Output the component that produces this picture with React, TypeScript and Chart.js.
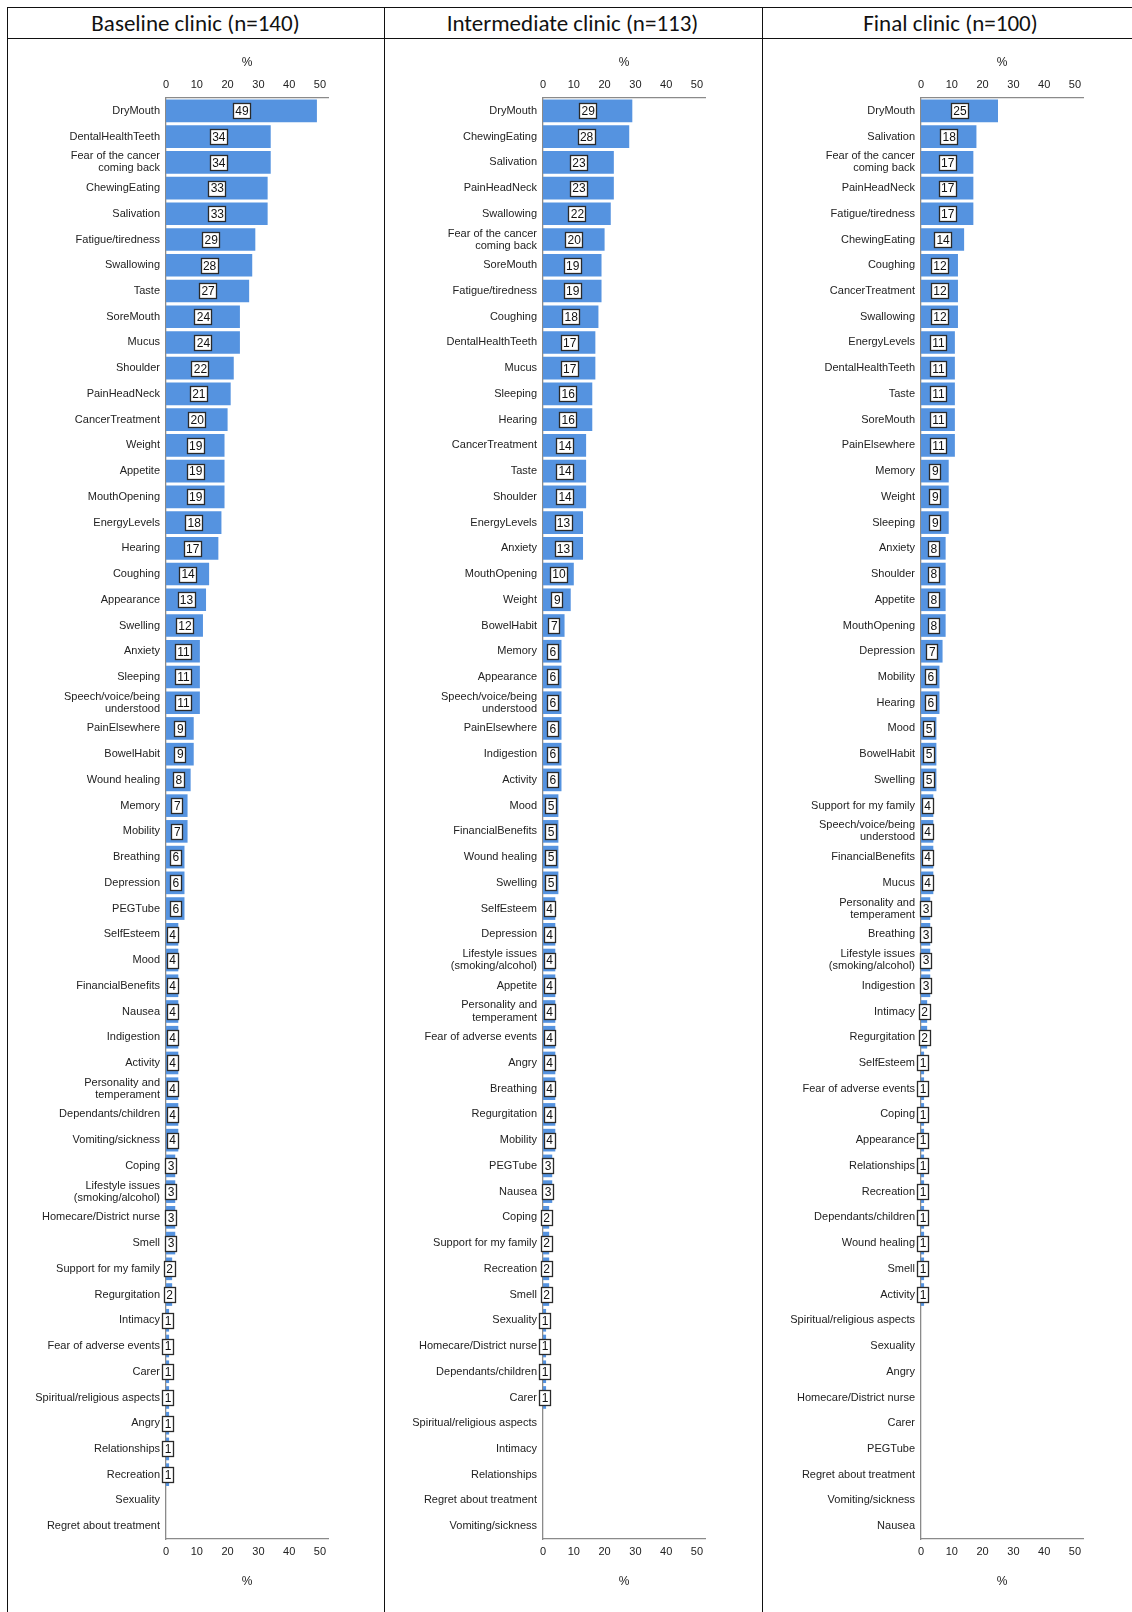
import React, { useEffect, useRef } from "react";
import { Chart, registerables } from "chart.js";

Chart.register(...registerables);

// ---------- DATA ----------
const baselineTitle = "Baseline clinic (n=140)";
const baselineLabels = [
  "DryMouth", "DentalHealthTeeth", "Fear of the cancer\ncoming back", "ChewingEating", "Salivation",
  "Fatigue/tiredness", "Swallowing", "Taste", "SoreMouth", "Mucus", "Shoulder", "PainHeadNeck",
  "CancerTreatment", "Weight", "Appetite", "MouthOpening", "EnergyLevels", "Hearing", "Coughing",
  "Appearance", "Swelling", "Anxiety", "Sleeping", "Speech/voice/being\nunderstood", "PainElsewhere",
  "BowelHabit", "Wound healing", "Memory", "Mobility", "Breathing", "Depression", "PEGTube",
  "SelfEsteem", "Mood", "FinancialBenefits", "Nausea", "Indigestion", "Activity",
  "Personality and\ntemperament", "Dependants/children", "Vomiting/sickness", "Coping",
  "Lifestyle issues\n(smoking/alcohol)", "Homecare/District nurse", "Smell", "Support for my family",
  "Regurgitation", "Intimacy", "Fear of adverse events", "Carer", "Spiritual/religious aspects",
  "Angry", "Relationships", "Recreation", "Sexuality", "Regret about treatment",
];
const baselineValues = [
  49, 34, 34, 33, 33, 29, 28, 27, 24, 24, 22, 21, 20, 19, 19, 19, 18, 17, 14, 13, 12, 11, 11, 11,
  9, 9, 8, 7, 7, 6, 6, 6, 4, 4, 4, 4, 4, 4, 4, 4, 4, 3, 3, 3, 3, 2, 2, 1, 1, 1, 1, 1, 1, 1, 0, 0,
];

const intermediateTitle = "Intermediate clinic (n=113)";
const intermediateLabels = [
  "DryMouth", "ChewingEating", "Salivation", "PainHeadNeck", "Swallowing",
  "Fear of the cancer\ncoming back", "SoreMouth", "Fatigue/tiredness", "Coughing", "DentalHealthTeeth",
  "Mucus", "Sleeping", "Hearing", "CancerTreatment", "Taste", "Shoulder", "EnergyLevels", "Anxiety",
  "MouthOpening", "Weight", "BowelHabit", "Memory", "Appearance", "Speech/voice/being\nunderstood",
  "PainElsewhere", "Indigestion", "Activity", "Mood", "FinancialBenefits", "Wound healing", "Swelling",
  "SelfEsteem", "Depression", "Lifestyle issues\n(smoking/alcohol)", "Appetite",
  "Personality and\ntemperament", "Fear of adverse events", "Angry", "Breathing", "Regurgitation",
  "Mobility", "PEGTube", "Nausea", "Coping", "Support for my family", "Recreation", "Smell",
  "Sexuality", "Homecare/District nurse", "Dependants/children", "Carer",
  "Spiritual/religious aspects", "Intimacy", "Relationships", "Regret about treatment",
  "Vomiting/sickness",
];
const intermediateValues = [
  29, 28, 23, 23, 22, 20, 19, 19, 18, 17, 17, 16, 16, 14, 14, 14, 13, 13, 10, 9, 7, 6, 6, 6, 6, 6,
  6, 5, 5, 5, 5, 4, 4, 4, 4, 4, 4, 4, 4, 4, 4, 3, 3, 2, 2, 2, 2, 1, 1, 1, 1, 0, 0, 0, 0, 0,
];

const finalTitle = "Final clinic (n=100)";
const finalLabels = [
  "DryMouth", "Salivation", "Fear of the cancer\ncoming back", "PainHeadNeck", "Fatigue/tiredness",
  "ChewingEating", "Coughing", "CancerTreatment", "Swallowing", "EnergyLevels", "DentalHealthTeeth",
  "Taste", "SoreMouth", "PainElsewhere", "Memory", "Weight", "Sleeping", "Anxiety", "Shoulder",
  "Appetite", "MouthOpening", "Depression", "Mobility", "Hearing", "Mood", "BowelHabit", "Swelling",
  "Support for my family", "Speech/voice/being\nunderstood", "FinancialBenefits", "Mucus",
  "Personality and\ntemperament", "Breathing", "Lifestyle issues\n(smoking/alcohol)", "Indigestion",
  "Intimacy", "Regurgitation", "SelfEsteem", "Fear of adverse events", "Coping", "Appearance",
  "Relationships", "Recreation", "Dependants/children", "Wound healing", "Smell", "Activity",
  "Spiritual/religious aspects", "Sexuality", "Angry", "Homecare/District nurse", "Carer", "PEGTube",
  "Regret about treatment", "Vomiting/sickness", "Nausea",
];
const finalValues = [
  25, 18, 17, 17, 17, 14, 12, 12, 12, 11, 11, 11, 11, 11, 9, 9, 9, 8, 8, 8, 8, 7, 6, 6, 5, 5, 5, 4,
  4, 4, 4, 3, 3, 3, 3, 2, 2, 1, 1, 1, 1, 1, 1, 1, 1, 1, 1, 0, 0, 0, 0, 0, 0, 0, 0, 0,
];

const axisTicks = [0, 10, 20, 30, 40, 50];
const axisTitle = "%";

// ---------- STYLE ----------
const PANEL_W = 377;
const CANVAS_H = 1574;
const BAR_COLOR = "#5593E0";
const LABEL_FONT = '"Liberation Sans", Arial, sans-serif';

const valueBoxPlugin = {
  id: "valueBox",
  afterDatasetsDraw(chart: any) {
    const ctx = chart.ctx;
    const meta = chart.getDatasetMeta(0);
    const data = chart.data.datasets[0].data as number[];
    ctx.save();
    ctx.font = `12px ${LABEL_FONT}`;
    ctx.textAlign = "center";
    ctx.textBaseline = "middle";
    meta.data.forEach((el: any, i: number) => {
      const v = data[i];
      if (!v) return;
      const { x, y, base } = el.getProps(["x", "y", "base"], true);
      const cx = (x + base) / 2;
      const text = String(v);
      const w = Math.round(ctx.measureText(text).width + 4);
      const h = 15;
      const left = Math.round(cx - w / 2) + 0.5;
      const top = Math.round(y - h / 2) + 0.5;
      ctx.fillStyle = "#ffffff";
      ctx.fillRect(left, top, w, h);
      ctx.strokeStyle = "#2a2a2a";
      ctx.lineWidth = 1.3;
      ctx.strokeRect(left, top, w, h);
      ctx.fillStyle = "#111111";
      ctx.fillText(text, cx + 0.5, y + 1);
    });
    ctx.restore();
  },
};

function BarPanel({ labels, values }: { labels: string[]; values: number[] }) {
  const ref = useRef<HTMLCanvasElement | null>(null);
  useEffect(() => {
    if (!ref.current) return;
    const tickFont = { family: LABEL_FONT, size: 11 };
    const xCommon = (position: "top" | "bottom") => ({
      type: "linear" as const,
      position,
      min: 0,
      max: 52.6,
      afterBuildTicks: (scale: any) => {
        scale.ticks = axisTicks.map((v) => ({ value: v }));
      },
      grid: { display: false, drawTicks: false },
      border: { display: true, color: "#8a8a8a", width: 1.3 },
      ticks: { font: tickFont, color: "#222", padding: 6, maxRotation: 0 },
      title: {
        display: true,
        text: axisTitle,
        font: { family: LABEL_FONT, size: 12 },
        color: "#222",
        padding: position === "top" ? { top: 17, bottom: 0 } : { top: 0, bottom: 23 },
      },
      afterFit: (scale: any) => {
        scale.height = position === "top" ? 60 : CANVAS_H - 1501;
      },
    });
    const chart = new Chart(ref.current, {
      type: "bar",
      data: {
        labels: labels.map((l) => (l.includes("\n") ? l.split("\n") : l)),
        datasets: [
          {
            data: values,
            backgroundColor: BAR_COLOR,
            borderWidth: 0,
            barPercentage: 0.88,
            categoryPercentage: 1,
            xAxisID: "x",
          },
        ],
      },
      options: {
        indexAxis: "y",
        responsive: false,
        animation: false,
        maintainAspectRatio: false,
        layout: { padding: { left: 0, right: PANEL_W - 321, top: 0, bottom: 0 } },
        plugins: { legend: { display: false }, tooltip: { enabled: false } },
        scales: {
          x: xCommon("bottom"),
          x2: xCommon("top"),
          y: {
            type: "category",
            position: "left",
            grid: { display: false, drawTicks: false },
            border: { display: true, color: "#8a8a8a", width: 1.3 },
            ticks: {
              font: { family: LABEL_FONT, size: 11, lineHeight: 1.1 },
              color: "#222",
              padding: 6,
              autoSkip: false,
            },
            afterFit: (scale: any) => {
              scale.width = 159;
            },
          },
        },
      },
      plugins: [valueBoxPlugin],
    } as any);
    return () => chart.destroy();
  }, [labels, values]);
  return <canvas ref={ref} width={PANEL_W} height={CANVAS_H} style={{ display: "block", width: PANEL_W, height: CANVAS_H }} />;
}

const panels = [
  { title: baselineTitle, labels: baselineLabels, values: baselineValues, left: 7 },
  { title: intermediateTitle, labels: intermediateLabels, values: intermediateValues, left: 384 },
  { title: finalTitle, labels: finalLabels, values: finalValues, left: 762 },
];

export default function App() {
  const line = "#111";
  return (
    <div style={{ position: "absolute", left: 0, top: 0, width: 1132, height: 1612, overflow: "hidden", background: "#fff" }}>
      {/* table borders */}
      <div style={{ position: "absolute", left: 7, top: 7, width: 1125, height: 1, background: line }} />
      <div style={{ position: "absolute", left: 7, top: 38, width: 1125, height: 1, background: line }} />
      {panels.map((p) => (
        <div key={p.title} style={{ position: "absolute", left: p.left, top: 7, width: 1, height: 1605, background: line }} />
      ))}
      {panels.map((p) => (
        <div
          key={p.title + "-t"}
          style={{
            position: "absolute",
            left: p.left,
            top: 8,
            width: PANEL_W,
            height: 30,
            lineHeight: "30px",
            textAlign: "center",
            fontFamily: "Carlito, Lato, sans-serif",
            fontSize: 23,
            color: "#111",
          }}
        >
          {p.title}
        </div>
      ))}
      {panels.map((p) => (
        <div key={p.title + "-c"} style={{ position: "absolute", left: p.left, top: 38 }}>
          <BarPanel labels={p.labels} values={p.values} />
        </div>
      ))}
    </div>
  );
}
